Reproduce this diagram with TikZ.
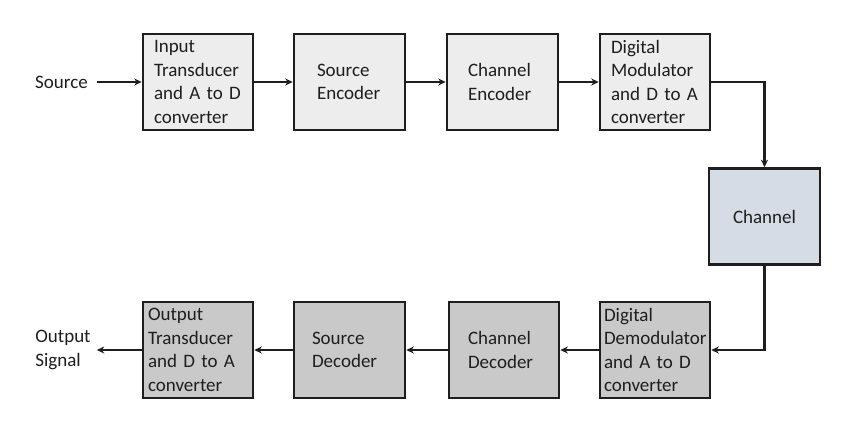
\documentclass[tikz,border=0pt]{standalone}
\usepackage{fontspec}
\setmainfont{Carlito}
\usetikzlibrary{arrows.meta}
\definecolor{topfill}{HTML}{EDEDED}
\definecolor{chfill}{HTML}{D6DCE5}
\definecolor{botfill}{HTML}{C9C9C9}
\definecolor{ink}{HTML}{1E1E1E}
\tikzset{
  blk/.style={draw=ink, line width=2.6pt, minimum height=96pt, anchor=center,
    align=left, font=\fontsize{19}{23.5}\selectfont, text=ink, inner ysep=0pt},
  topblk/.style={blk, fill=topfill},
  botblk/.style={blk, fill=botfill},
  lbl/.style={font=\fontsize{19}{23.5}\selectfont, text=ink, align=left, inner ysep=4pt},
  conn/.style={draw=ink, line width=2.3pt, -{Stealth[length=7.5pt,width=7pt]}}
}
\begin{document}
\begin{tikzpicture}[x=1pt,y=-1pt]
\useasboundingbox (0,0) rectangle (845,433);
% top row
\node[topblk, inner xsep=11pt, text width=88pt] (b1) at (198,82) {Input\\Transducer\\and A to D\\converter};
\node[topblk, inner xsep=23pt, text width=65pt] (b2) at (349.5,82) {Source\\Encoder};
\node[topblk, inner xsep=21pt, text width=69pt] (b3) at (502.5,82) {Channel\\Encoder};
\node[topblk, inner xsep=11pt, text width=88pt] (b4) at (655,82) {Digital\\Modulator\\and D to A\\converter};
% channel
\node[blk, fill=chfill, minimum width=111pt, inner xsep=0pt, align=center] (ch) at (764.5,216.5) {Channel};
% bottom row
\node[botblk, inner xsep=5pt, text width=100pt] (d1) at (198,350) {Output\\Transducer\\and D to A\\converter};
\node[botblk, inner xsep=18pt, text width=75pt] (d2) at (349.5,350) {Source\\Decoder};
\node[botblk, inner xsep=19pt, text width=72pt] (d3) at (504,350) {Channel\\Decoder};
\node[botblk, inner xsep=4pt, text width=102pt] (d4) at (655,350) {Digital\\Demodulator\\and A to D\\converter};
% labels
\node[lbl, inner xsep=9pt] (src) at (61.5,82) {Source};
\node[lbl, inner xsep=6pt] (out) at (63,350) {Output\\Signal};
% connectors
\draw[conn] (src.east) -- (b1.west);
\draw[conn] (b1.east) -- (b2.west);
\draw[conn] (b2.east) -- (b3.west);
\draw[conn] (b3.east) -- (b4.west);
\draw[conn] (b4.east) -| (ch.north);
\draw[conn] (ch.south) |- (d4.east);
\draw[conn] (d4.west) -- (d3.east);
\draw[conn] (d3.west) -- (d2.east);
\draw[conn] (d2.west) -- (d1.east);
\draw[conn] (d1.west) -- (out.east);
\end{tikzpicture}
\end{document}
